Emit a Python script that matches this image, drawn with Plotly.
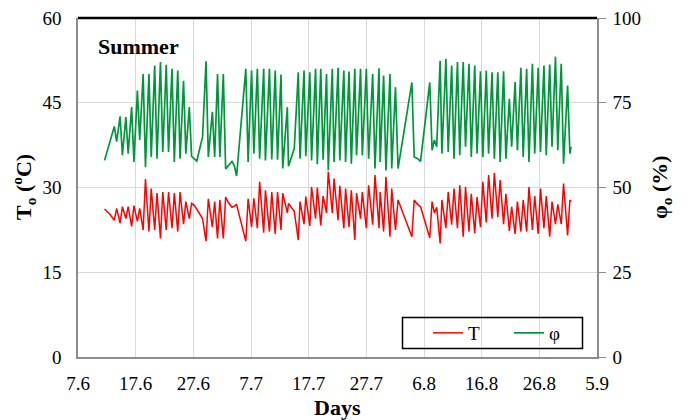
import plotly.graph_objects as go

# Time axis: days since 7 June
day = [4.6, 5.5, 6.3, 6.7, 7.3, 7.7, 8.3, 8.7, 9.3, 9.7, 10.3, 10.7,
       11.3, 11.7, 12.3, 12.7, 13.3, 13.7, 14.3, 14.7, 15.3, 15.7, 16.3, 16.7,
       17.3, 17.7, 18.3, 18.7, 19.3, 19.7, 20.2, 20.6, 21.6, 22.2, 22.6,
       23.3, 23.7, 24.2, 24.6, 25.2, 25.6, 26.1, 26.7, 27.1, 27.5,
       29.1, 29.5, 30.1, 30.5, 31.1, 31.5, 32.2, 32.5, 33.2, 33.6, 34.2, 34.6,
       35.2, 35.5, 36.3, 36.5, 37.5, 38.2, 38.5, 39.2, 39.5, 40.2, 40.5,
       41.2, 41.5, 42.1, 42.5, 43.1, 43.4, 44.1, 44.4, 45.1, 45.4, 46.1, 46.4,
       47.0, 47.4, 48.0, 48.3, 49.0, 49.3, 50.0, 50.4, 51.1, 51.5, 52.2, 52.4,
       53.0, 53.4, 54.1, 54.4, 55.05, 55.5, 57.9, 58.3, 58.9, 59.4,
       61.0, 61.4, 61.8, 62.2, 62.8, 63.1, 63.8, 64.2, 64.8, 65.2, 65.8, 66.2,
       66.8, 67.2, 67.8, 68.2, 68.8, 69.2, 69.8, 70.2, 70.8, 71.2, 71.8, 72.2,
       72.8, 73.2, 73.8, 74.2, 74.8, 75.2, 75.8, 76.2, 76.8, 77.2, 77.8, 78.2,
       78.8, 79.2, 79.8, 80.2, 80.8, 81.2, 81.8, 82.2, 82.8, 83.2, 83.8, 84.2,
       84.9, 85.3, 85.5]

# Outdoor relative humidity (%)
phi = [58, 63, 68, 63.5, 71, 59.5, 70.8, 60, 73.7, 57.5, 78.6, 64,
       83.5, 56, 83.5, 59, 86, 58.5, 87, 60.5, 86.2, 60.5, 85, 57.5,
       84.5, 58.5, 81.5, 60, 73.7, 59.2, 58.5, 57.8, 65, 87.2, 59,
       72.3, 59, 83.5, 59, 83.5, 55.5, 56.5, 57.7, 56.5, 53.4,
       85, 57.5, 84.5, 60, 85, 58.5, 85, 58, 85, 58.3, 84.5, 58.2,
       83.3, 55.6, 73.7, 56.3, 61.5, 84, 58.5, 84.5, 59.2, 84, 58,
       85, 56.9, 85, 58.2, 83.5, 55.1, 85, 57.5, 85.3, 58, 84.5, 57.5,
       84.2, 57, 85, 59.5, 85, 59.5, 85, 58.5, 83.5, 55.6, 85.2, 57.5,
       83, 55, 83.5, 55.6, 79.6, 55.6, 81, 59, 58.5, 57.7,
       81, 61, 64, 62, 87.4, 60, 87.9, 60.5, 86, 58.5, 87, 59.5,
       87, 62, 86.5, 59, 86, 60, 84.3, 59, 84.5, 60, 84, 58.5,
       84, 57.5, 84.3, 58.5, 76.2, 62, 81.1, 61, 85.3, 59, 85, 57.5,
       86.5, 60, 85.3, 60.5, 86, 59.5, 86.3, 62, 88.6, 61, 86.5, 57,
       80.1, 60, 62]

# Outdoor temperature (deg C)
T = [26.2, 25.3, 24.2, 26.3, 23.7, 26.6, 24.5, 26.6, 23.1, 26.8, 24.0, 26.3,
     22.5, 31.5, 22.2, 29.8, 22.5, 29.0, 21.0, 29.2, 22.5, 29.2, 22.8, 29.0,
     22.2, 29.2, 23.5, 27.5, 24.5, 27.2, 26.8, 26.2, 24.5, 20.5, 28.0,
     23.0, 27.5, 21.0, 27.8, 21.0, 28.3, 27.3, 26.5, 26.7, 27.0,
     20.5, 28.0, 23.0, 28.1, 22.8, 31.0, 22.0, 29.5, 22.2, 29.2, 21.8, 29.2,
     22.5, 29.0, 25.5, 27.2, 25.8, 20.7, 27.5, 23.5, 28.4, 23.2, 30.1,
     24.5, 30.0, 23.3, 28.5, 25.5, 32.8, 25.5, 31.6, 24.2, 30.3, 22.8, 29.8,
     23.0, 29.5, 20.7, 29.0, 24.5, 29.2, 22.8, 30.4, 23.4, 32.2, 22.8, 29.2,
     22.2, 31.9, 21.3, 29.8, 22.5, 27.8, 21.3, 27.8, 27.0, 26.6,
     21.1, 27.5, 25.5, 26.5, 20.1, 27.8, 22.8, 29.2, 23.4, 29.8, 22.8, 30.4,
     21.3, 30.1, 22.2, 28.9, 21.9, 28.3, 23.0, 31.0, 23.8, 32.2, 24.5, 32.6,
     24.8, 31.3, 23.5, 28.9, 22.3, 26.6, 21.8, 27.5, 22.2, 27.8, 22.2, 30.1,
     22.5, 28.5, 21.8, 29.8, 22.8, 28.5, 21.3, 27.5, 23.5, 27.0, 23.5, 30.7,
     21.5, 27.8, 27.5]

tick_vals = [0, 10, 20, 30, 40, 50, 60, 70, 80, 90]
tick_text = ["7.6", "17.6", "27.6", "7.7", "17.7", "27.7", "6.8", "16.8", "26.8", "5.9"]

FONT = "Liberation Serif, Times New Roman, serif"
GRID = "#d9d9d9"
AXIS = "#8c8c8c"

# The page body adds an 8px margin, so the figure is 8px smaller and
# all screen targets are shifted by 8px into figure coordinates.
OFF = 8
W, H = 690 - OFF, 420 - OFF
# plot area in screen pixels: x 78..597, y 18..357
L, R, TOP, BOT = 78 - OFF, 597 - OFF, 18 - OFF, 357 - OFF
PW, PH = R - L, BOT - TOP


def px(x):
    return (x - OFF - L) / PW


def py(y):
    return (BOT - (y - OFF)) / PH


fig = go.Figure()
fig.add_trace(go.Scatter(x=day, y=T, name="T", mode="lines",
                         line=dict(color="#ff0000", width=1.5), yaxis="y"))
fig.add_trace(go.Scatter(x=day, y=phi, name="φ", mode="lines",
                         line=dict(color="#00963c", width=1.7), yaxis="y2"))

fig.update_layout(
    width=W, height=H,
    margin=dict(l=L, r=W - R, t=TOP, b=H - BOT, autoexpand=False),
    paper_bgcolor="white", plot_bgcolor="white",
    font=dict(family=FONT, size=19, color="black"),
    showlegend=True,
    legend=dict(orientation="h", x=px(428), y=py(333), xanchor="left", yanchor="middle",
                bgcolor="rgba(0,0,0,0)", borderwidth=0,
                font=dict(family=FONT, size=19),
                entrywidth=36, entrywidthmode="pixels"),
    xaxis=dict(range=[0, 90], tickvals=tick_vals, ticktext=tick_text,
               showgrid=True, gridcolor=GRID, gridwidth=1.3,
               showline=True, linecolor=AXIS, linewidth=1.5,
               ticks="", ticklabelstandoff=8, zeroline=False, automargin=False,
               ticklabeloverflow="allow",
               tickfont=dict(family=FONT, size=19)),
    yaxis=dict(range=[0, 60], tickvals=[0, 15, 30, 45, 60],
               showgrid=True, gridcolor=GRID, gridwidth=1.3,
               showline=True, linecolor=AXIS, linewidth=1.5,
               ticks="", ticklabelstandoff=11, zeroline=False, automargin=False,
               ticklabeloverflow="allow",
               tickfont=dict(family=FONT, size=19)),
    yaxis2=dict(range=[0, 100], tickvals=[0, 25, 50, 75, 100], overlaying="y", side="right",
                showgrid=False, showline=True, linecolor=AXIS, linewidth=1.5,
                ticks="outside", ticklen=7, tickcolor=AXIS, zeroline=False,
                ticklabelstandoff=3, automargin=False,
                ticklabeloverflow="allow",
                tickfont=dict(family=FONT, size=19)),
    shapes=[
        dict(type="line", xref="paper", yref="paper", x0=0, x1=1, y0=1, y1=1,
             line=dict(color="black", width=2.5)),
        dict(type="rect", xref="paper", yref="paper", layer="above",
             x0=px(402.5), x1=px(582.5), y0=py(348.5), y1=py(317.5),
             fillcolor="rgba(0,0,0,0)", line=dict(color="black", width=1.5)),
        dict(type="rect", xref="paper", yref="paper", layer="between",
             x0=px(402.5), x1=px(582.5), y0=py(348.5), y1=py(317.5),
             fillcolor="white", line=dict(width=0)),
    ],
    annotations=[
        dict(text="<b>Summer</b>", xref="paper", yref="paper", x=px(96), y=py(46),
             xanchor="left", yanchor="middle", showarrow=False,
             font=dict(family=FONT, size=22)),
        dict(text="<b>Days</b>", xref="paper", yref="paper", x=px(337), y=py(407),
             xanchor="center", yanchor="middle", showarrow=False,
             font=dict(family=FONT, size=22)),
        dict(text="<b>T<sub>o</sub> (<sup>o</sup>C)</b>", xref="paper", yref="paper",
             x=px(23), y=py(187), xanchor="center", yanchor="middle", textangle=-90,
             showarrow=False, font=dict(family=FONT, size=22)),
        dict(text="<b>φ<sub>o</sub> (%)</b>", xref="paper", yref="paper",
             x=px(661), y=py(187), xanchor="center", yanchor="middle", textangle=-90,
             showarrow=False, font=dict(family=FONT, size=22)),
    ],
)

fig.write_html("out.html")
